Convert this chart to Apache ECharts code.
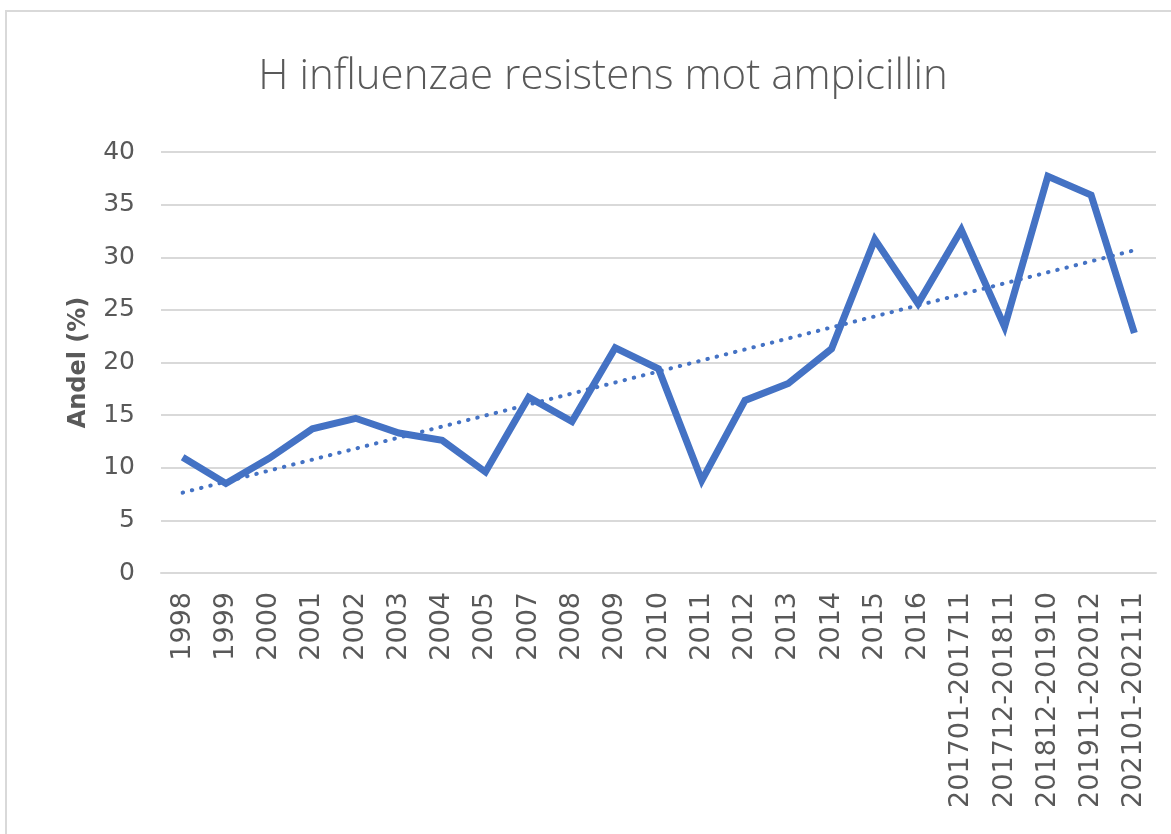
<!DOCTYPE html>
<html>
<head>
<meta charset="utf-8">
<script src="https://cdn.jsdelivr.net/npm/echarts@6/dist/echarts.min.js"></script>
<style>
html,body{margin:0;padding:0;background:#fff;overflow:hidden;}
#frame{position:absolute;left:5px;top:10px;width:1180px;height:840px;border:2px solid #d9d9d9;box-sizing:border-box;}
#chart{position:absolute;left:0;top:0;width:1171px;height:834px;}
</style>
</head>
<body>
<div id="frame"></div>
<div id="chart"></div>
<script>
const categories = ['1998','1999','2000','2001','2002','2003','2004','2005','2007','2008','2009','2010','2011','2012','2013','2014','2015','2016','201701-201711','201712-201811','201812-201910','201911-202012','202101-202111'];
const resistance = [11.0, 8.5, 10.9, 13.7, 14.7, 13.3, 12.6, 9.6, 16.7, 14.4, 21.4, 19.4, 8.8, 16.4, 18.0, 21.3, 31.7, 25.6, 32.6, 23.4, 37.7, 35.9, 22.8];
const yTicks = [0, 5, 10, 15, 20, 25, 30, 35, 40];

// Linear trendline (least squares) derived from the series
const n = resistance.length;
const mx = (n - 1) / 2;
const my = resistance.reduce((a, b) => a + b, 0) / n;
let sxy = 0, sxx = 0;
resistance.forEach((v, i) => { sxy += (i - mx) * (v - my); sxx += (i - mx) * (i - mx); });
const slope = sxy / sxx;
const trend = resistance.map((v, i) => +(my + slope * (i - mx)).toFixed(3));

const chart = echarts.init(document.getElementById('chart'));
chart.setOption({
  backgroundColor: 'transparent',
  animation: false,
  graphic: [{
    type: 'text',
    x: 603, y: 77,
    style: {
      text: 'H influenzae resistens mot ampicillin',
      align: 'center', verticalAlign: 'middle',
      font: '300 42px "Open Sans", sans-serif',
      fill: '#595959'
    }
  }],
  grid: { left: 161, right: 15, top: 152, bottom: 261 },
  xAxis: {
    type: 'category',
    data: categories,
    boundaryGap: true,
    axisLine: { show: true, lineStyle: { color: '#d9d9d9', width: 2 } },
    axisTick: { show: false },
    axisLabel: {
      rotate: 90, interval: 0, margin: 19,
      color: '#595959', fontFamily: 'DejaVu Sans', fontSize: 27
    }
  },
  yAxis: {
    type: 'value',
    min: yTicks[0], max: yTicks[yTicks.length - 1], interval: 5,
    name: 'Andel (%)',
    nameLocation: 'middle',
    nameGap: 70,
    nameTextStyle: { color: '#595959', fontFamily: 'DejaVu Sans', fontWeight: 'bold', fontSize: 24 },
    axisLine: { show: false },
    axisTick: { show: false },
    axisLabel: { color: '#595959', fontFamily: 'DejaVu Sans', fontSize: 25, margin: 26 },
    splitLine: { lineStyle: { color: '#d9d9d9', width: 2 } }
  },
  series: [
    {
      name: 'Andel',
      type: 'line',
      data: resistance,
      symbol: 'none',
      lineStyle: { color: '#4472C4', width: 7, join: 'miter' },
      z: 3
    },
    {
      name: 'Trend',
      type: 'line',
      data: trend,
      symbol: 'none',
      lineStyle: { color: '#4472C4', width: 4, type: [0.5, 9], cap: 'round' },
      z: 2
    }
  ]
});
</script>
</body>
</html>
